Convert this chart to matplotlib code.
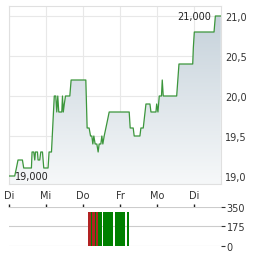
import numpy as np
import matplotlib.pyplot as plt
from matplotlib.colors import LinearSegmentedColormap

# price trace: time in trading days since first label, price in EUR
days = [0.000, 0.154, 0.200, 0.243, 0.362, 0.397, 0.605, 0.622, 0.668, 0.695,
        0.714, 0.768, 0.784, 0.830, 0.857, 0.903, 0.938, 1.054, 1.081, 1.146,
        1.189, 1.222, 1.262, 1.289, 1.316, 1.343, 1.424, 1.443, 1.465, 1.492,
        1.524, 1.641, 1.676, 2.073, 2.108, 2.162, 2.200, 2.235, 2.262, 2.289,
        2.324, 2.370, 2.405, 2.432, 2.478, 2.505, 2.532, 2.568, 2.614, 2.659,
        2.703, 3.243, 3.270, 3.351, 3.378, 3.532, 3.559, 3.622, 3.695, 3.803,
        3.830, 3.965, 3.984, 4.019, 4.054, 4.114, 4.135, 4.162, 4.524, 4.586,
        4.957, 4.973, 5.000, 5.532, 5.568, 5.714]
prices = [19.0, 19.0, 19.1, 19.2, 19.2, 19.1, 19.1, 19.3, 19.3, 19.2,
          19.3, 19.3, 19.2, 19.2, 19.3, 19.3, 19.1, 19.1, 19.3, 19.3,
          19.7, 20.0, 20.0, 19.8, 20.0, 19.8, 19.8, 20.0, 19.8, 19.9,
          20.0, 20.0, 20.2, 20.2, 19.6, 19.6, 19.5, 19.5, 19.4, 19.5,
          19.4, 19.4, 19.3, 19.4, 19.4, 19.5, 19.4, 19.5, 19.6, 19.7,
          19.8, 19.8, 19.6, 19.6, 19.5, 19.5, 19.6, 19.6, 19.9, 19.9,
          19.8, 19.8, 19.9, 19.8, 20.0, 20.0, 20.2, 20.0, 20.0, 20.4,
          20.4, 20.6, 20.8, 20.8, 21.0, 21.0]

day_labels = ['Di', 'Mi', 'Do', 'Fr', 'Mo', 'Di']
price_ticks = [19.0, 19.5, 20.0, 20.5, 21.0]
price_tick_labels = ['19,0', '19,5', '20,0', '20,5', '21,0']
high_label = '21,000'
low_label = '19,000'

# volume blocks: start / end (days), volume, direction (1 up, -1 down)
vol_start = [2.127, 2.216, 2.235, 2.308, 2.343, 2.405, 2.524, 2.857, 3.173]
vol_end = [2.216, 2.235, 2.308, 2.343, 2.397, 2.497, 2.811, 3.127, 3.227]
vol_value = [300, 300, 300, 300, 300, 300, 300, 300, 300]
vol_dir = [-1, 1, -1, 1, -1, 1, 1, 1, 1]
vol_ticks = [0, 175, 350]

xmax = 5.72
ymin, ymax = 18.9, 21.125

fig = plt.figure(figsize=(2.64, 2.55), dpi=100)
ax = fig.add_axes([9 / 264, 70 / 255, 212 / 264, 178 / 255])
axv = fig.add_axes([9 / 264, 8 / 255, 212 / 264, 39.3 / 255])

# gradient fill under the line
poly = ax.fill_between(days, prices, ymin, color='none', lw=0)
cmap = LinearSegmentedColormap.from_list('g', ['#f6f8f9', '#c6d2db'])
grad = np.linspace(0, 1, 256).reshape(-1, 1)
img = ax.imshow(grad, cmap=cmap, origin='lower', aspect='auto',
                extent=[0, xmax, ymin, 21.0], zorder=1)
img.set_clip_path(poly.get_paths()[0], transform=ax.transData)

ax.plot(days, prices, color='#3c963c', lw=0.9, zorder=3)

ax.set_xlim(0, xmax)
ax.set_ylim(ymin, ymax)
ax.set_xticks(range(len(day_labels)))
ax.set_xticklabels(day_labels)
ax.set_yticks(price_ticks)
ax.set_yticklabels(price_tick_labels)
ax.yaxis.tick_right()
ax.tick_params(length=0, labelsize=7, colors='#333333', pad=3)
ax.tick_params(axis='x', pad=4)
ax.grid(True, color='#e8e8e8', lw=0.8)
ax.set_axisbelow(True)
for s in ax.spines.values():
    s.set_color('#e0e0e0')
    s.set_linewidth(0.8)

i_max = int(np.argmax(prices))
i_min = int(np.argmin(prices))
ax.annotate(high_label, (days[i_max], prices[i_max]), xytext=(-3, 0),
            textcoords='offset points', ha='right', va='center',
            fontsize=7, color='#222222', zorder=4)
ax.annotate(low_label, (days[i_min], prices[i_min]), xytext=(4, 0),
            textcoords='offset points', ha='left', va='center',
            fontsize=7, color='#222222', zorder=4)

# volume panel
colors = ['#008000' if d > 0 else '#b22222' for d in vol_dir]
widths = [e - s for s, e in zip(vol_start, vol_end)]
axv.bar(vol_start, vol_value, width=widths, align='edge', color=colors, lw=0, zorder=2)
axv.set_xlim(0, xmax)
axv.set_ylim(0, 350)
axv.set_yticks(vol_ticks)
axv.set_yticklabels([str(v) for v in vol_ticks])
axv.yaxis.tick_right()
axv.tick_params(axis='y', length=3, labelsize=7, colors='#333333', pad=1)
axv.set_xticks(range(len(day_labels)))
axv.xaxis.tick_top()
axv.tick_params(axis='x', length=2, width=1, labeltop=False, colors='#222222')
axv.grid(True, axis='y', color='#cccccc', lw=0.8)
axv.set_axisbelow(True)
for s in axv.spines.values():
    s.set_visible(False)

fig.savefig('out.png', dpi=100)
